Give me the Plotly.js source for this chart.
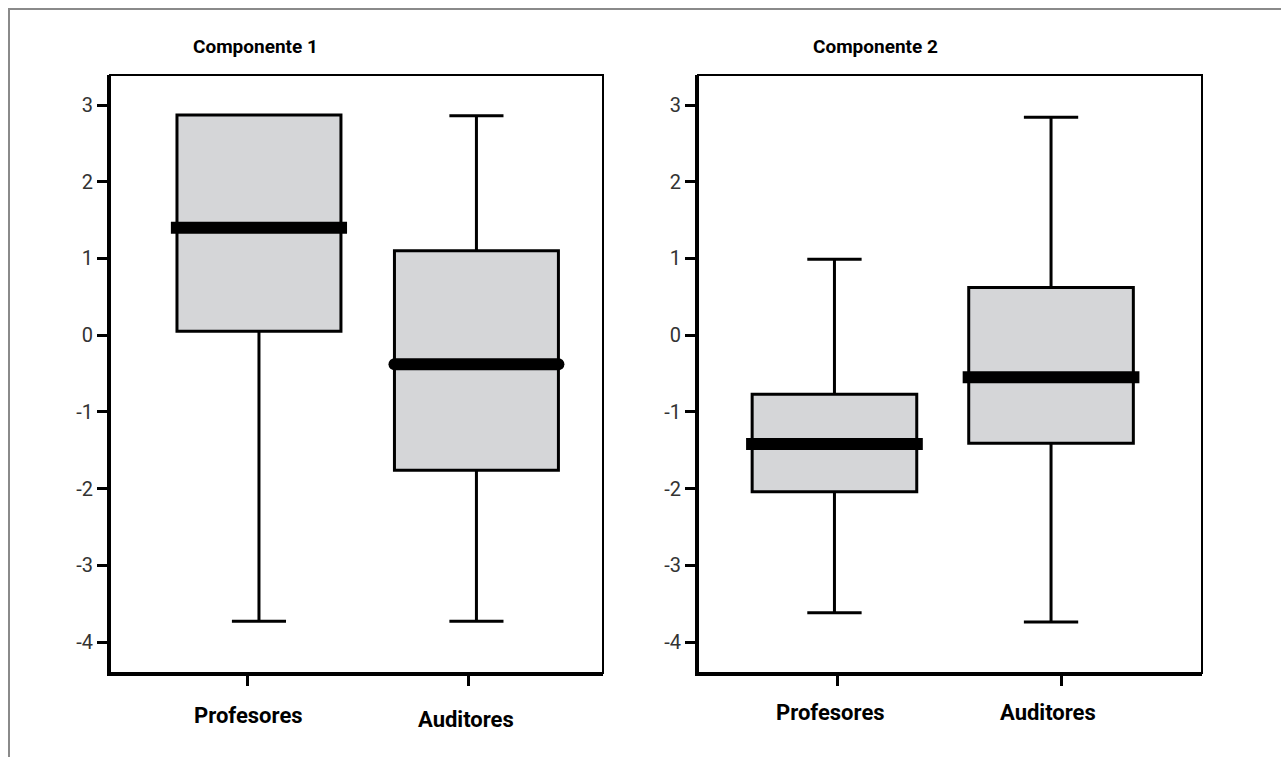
<!DOCTYPE html>
<html>
<head>
<meta charset="utf-8">
<script src="https://cdn.plot.ly/plotly-3.0.1.min.js"></script>
<style>
  html, body { margin: 0; padding: 0; background: #fff; }
  #wrap { position: relative; width: 1281px; height: 757px; overflow: hidden; }
  #chart { position: absolute; left: 0; top: 0; width: 1281px; height: 757px; }
  #frame { position: absolute; left: 8px; top: 8px; width: 1300px; height: 800px;
           border-top: 2px solid #8a8a8a; border-left: 2px solid #8a8a8a; pointer-events: none; }
</style>
</head>
<body>
<div id="wrap">
  <div id="chart"></div>
  <div id="frame"></div>
</div>
<script>
// ---- data ----
const categories = ['Profesores', 'Auditores'];
const panelTitles = ['Componente 1', 'Componente 2'];

const c1Upper  = [2.87, 2.86];
const c1Q3     = [2.87, 1.10];
const c1Median = [1.40, -0.38];
const c1Q1     = [0.05, -1.76];
const c1Lower  = [-3.73, -3.73];

const c2Upper  = [0.99, 2.84];
const c2Q3     = [-0.77, 0.62];
const c2Median = [-1.42, -0.55];
const c2Q1     = [-2.04, -1.41];
const c2Lower  = [-3.62, -3.74];

const yTickVals = [-4, -3, -2, -1, 0, 1, 2, 3];
const yTickText = ['-4', '-3', '-2', '-1', '0', '1', '2', '3'];

// ---- styling / layout ----
const FONT = 'Roboto, "Liberation Sans", sans-serif';
const boxFill = '#d5d6d8';
const positions = [0, 1];

const panels = [
  { xa: 'x',  ya: 'y',  upper: c1Upper, q3: c1Q3, med: c1Median, q1: c1Q1, lower: c1Lower,
    width: 0.754, medExt: [0.028, 0.0], roundCap: [false, true],
    tickPos: [-0.055, 0.963], labelPos: [-0.05, 0.95], labelY: [0.0542, 0.0489] },
  { xa: 'x2', ya: 'y2', upper: c2Upper, q3: c2Q3, med: c2Median, q1: c2Q1, lower: c2Lower,
    width: 0.76, medExt: [0.028, 0.028], roundCap: [false, false],
    tickPos: [0.012, 1.05], labelPos: [-0.016, 0.986], labelY: [0.0594, 0.0594] }
];

const traces = [];
const roundCapTraces = [];
panels.forEach(p => {
  categories.forEach((cat, i) => {
    traces.push({
      type: 'box', xaxis: p.xa, yaxis: p.ya, name: cat,
      x: [positions[i]],
      q1: [p.q1[i]], median: [p.med[i]], q3: [p.q3[i]],
      lowerfence: [p.lower[i]], upperfence: [p.upper[i]],
      width: p.width, whiskerwidth: 0.33, boxpoints: false,
      fillcolor: boxFill, line: { color: '#000', width: 3 },
      hoverinfo: 'skip', showlegend: false
    });
    const half = p.width / 2 + p.medExt[i];
    if (p.roundCap[i]) roundCapTraces.push(traces.length);
    traces.push({
      type: 'scatter', mode: 'lines', xaxis: p.xa, yaxis: p.ya,
      x: [positions[i] - half, positions[i] + half],
      y: [p.med[i], p.med[i]],
      line: { color: '#000', width: 12 },
      hoverinfo: 'skip', showlegend: false
    });
  });
});

const yDomain = [1 - 673 / 757, 1 - 75 / 757];
const yRange = [-4.404, 3.391];

function yAxis(anchor) {
  return {
    domain: yDomain, range: yRange, anchor: anchor,
    tickvals: yTickVals, ticktext: yTickText,
    ticks: 'outside', ticklen: 10, tickwidth: 3, tickcolor: '#000',
    showgrid: false, zeroline: false, showline: true, linewidth: 3, linecolor: '#000',
    tickfont: { family: FONT, size: 20, color: '#333' }, fixedrange: true
  };
}
function xAxis(anchor, domain, range, tickPos) {
  return {
    domain: domain, range: range, anchor: anchor,
    tickvals: tickPos, ticktext: ['', ''], showticklabels: false,
    ticks: 'outside', ticklen: 10, tickwidth: 3, tickcolor: '#000',
    showgrid: false, zeroline: false, showline: true, linewidth: 3, linecolor: '#000', fixedrange: true
  };
}

const annotations = [];
panels.forEach(p => {
  categories.forEach((cat, i) => {
    annotations.push({
      text: cat, xref: p.xa, yref: 'paper', x: p.labelPos[i], y: p.labelY[i],
      showarrow: false, xanchor: 'center', yanchor: 'middle',
      font: { family: FONT, size: 22, color: '#000', weight: 'bold' }
    });
  });
});
const titleX = [255 / 1281, 875 / 1281];
panelTitles.forEach((t, i) => {
  annotations.push({
    text: t, xref: 'paper', yref: 'paper', x: titleX[i], y: 1 - 47 / 757,
    showarrow: false, xanchor: 'center', yanchor: 'middle',
    font: { family: FONT, size: 19, color: '#000', weight: 'bold' }
  });
});

const shapes = [
  { type: 'rect', xref: 'x domain', yref: 'y domain', x0: 0, x1: 1, y0: 0, y1: 1, line: { color: '#000', width: 2 } },
  { type: 'rect', xref: 'x2 domain', yref: 'y2 domain', x0: 0, x1: 1, y0: 0, y1: 1, line: { color: '#000', width: 2 } }
];

const layout = {
  width: 1281, height: 757,
  margin: { l: 0, r: 0, t: 0, b: 0 },
  paper_bgcolor: '#fff', plot_bgcolor: '#fff',
  showlegend: false,
  xaxis:  xAxis('y',  [110 / 1281, 603 / 1281], [-0.685, 1.582], panels[0].tickPos),
  yaxis:  yAxis('x'),
  xaxis2: xAxis('y2', [698 / 1281, 1202 / 1281], [-0.630, 1.697], panels[1].tickPos),
  yaxis2: yAxis('x2'),
  annotations: annotations,
  shapes: shapes
};

Plotly.newPlot('chart', traces, layout, { staticPlot: true, displayModeBar: false }).then(gd => {
  // round line caps for marked median lines
  const plotDiv = document.getElementById('chart');
  const all = plotDiv.querySelectorAll('.scatterlayer .trace');
  all.forEach(tr => {
    const d = tr.__data__;
    const idx = d && d[0] && d[0].trace ? d[0].trace.index : -1;
    if (roundCapTraces.includes(idx)) {
      tr.querySelectorAll('path.js-line').forEach(p => p.style.strokeLinecap = 'round');
    }
  });
});
</script>
</body>
</html>
